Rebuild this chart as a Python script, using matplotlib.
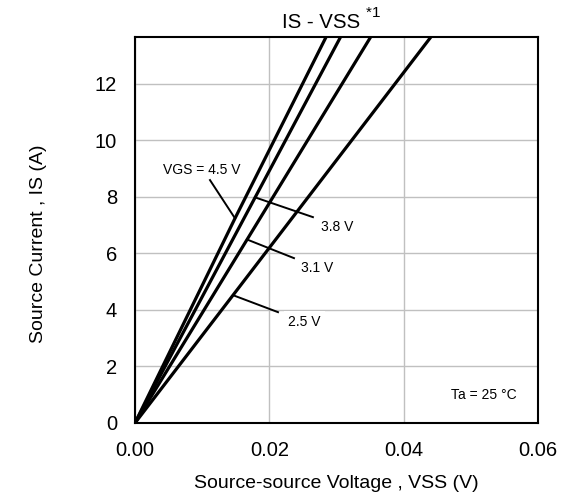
import matplotlib.pyplot as plt

plt.rcParams['font.family'] = ['Liberation Sans', 'DejaVu Sans']

# IS vs VSS curves
vss_45 = [0.0, 0.0149, 0.0292]
is_45 = [0.0, 7.24, 14.0]
vss_38 = [0.0, 0.0179, 0.0314]
is_38 = [0.0, 7.98, 14.0]
vss_31 = [0.0, 0.0167, 0.0360]
is_31 = [0.0, 6.49, 14.0]
vss_25 = [0.0, 0.0146, 0.0452]
is_25 = [0.0, 4.52, 14.0]

x_ticks = [0.00, 0.02, 0.04, 0.06]
y_ticks = [0, 2, 4, 6, 8, 10, 12]

# curve labels: text, text position, leader start (at text), leader end (on curve)
curve_labels = [
    ("VGS = 4.5 V", (0.0099, 8.95), (0.01117, 8.59), (0.01489, 7.24)),
    ("3.8 V", (0.0301, 6.93), (0.0265, 7.28), (0.01787, 7.98)),
    ("3.1 V", (0.0271, 5.48), (0.02368, 5.83), (0.01668, 6.49)),
    ("2.5 V", (0.0252, 3.57), (0.0213, 3.92), (0.01460, 4.52)),
]

fig = plt.figure(figsize=(5.62, 5.0), dpi=100)
ax = fig.add_axes([0.2402, 0.154, 0.7168, 0.772])

for xs, ys in [(vss_45, is_45), (vss_38, is_38), (vss_31, is_31), (vss_25, is_25)]:
    ax.plot(xs, ys, color='black', lw=2.3, solid_capstyle='butt')

ax.set_xlim(0, 0.06)
ax.set_ylim(0, 13.65)
ax.set_xticks(x_ticks)
ax.set_xticklabels(["%.2f" % v for v in x_ticks])
ax.set_yticks(y_ticks)
ax.grid(True, color='#c0c0c0', lw=1.0)
ax.set_axisbelow(True)
ax.tick_params(length=0, labelsize=14.5)
ax.tick_params(axis='y', pad=13)
ax.tick_params(axis='x', pad=13)
for s in ax.spines.values():
    s.set_linewidth(1.5)

for txt, tpos, p0, p1 in curve_labels:
    box = None
    if txt == "2.5 V":
        box = dict(boxstyle='square,pad=0.3', fc='white', ec='none')
    ax.text(tpos[0], tpos[1], txt, fontsize=10, ha='center', va='center', bbox=box, zorder=4)
    ax.plot([p0[0], p1[0]], [p0[1], p1[1]], color='black', lw=1.4, zorder=3)

ax.text(0.0568, 1.0, "Ta = 25 °C", fontsize=10, ha='right', va='center')

fig.text(336 / 562, 1 - 483 / 500, "Source-source Voltage , VSS (V)", fontsize=14,
         ha='center', va='center')
fig.text(39 / 562, 1 - 244 / 500, "Source Current , IS (A)", fontsize=14,
         ha='center', va='center', rotation=90)

fig.text(321 / 562, 1 - 23 / 500, "IS - VSS", fontsize=14.7, ha='center', va='center')
fig.text(366 / 562, 1 - 13 / 500, "*", fontsize=11, ha='left', va='center')
fig.text(372 / 562, 1 - 13 / 500, "1", fontsize=11, ha='left', va='center')

fig.savefig("out.png", dpi=100)
